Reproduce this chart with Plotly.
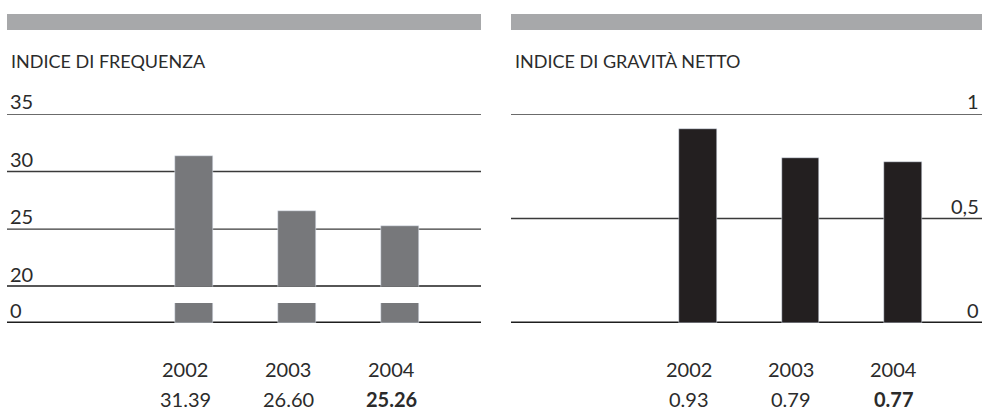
import plotly.graph_objects as go

# data
years = ["2002", "2003", "2004"]
freq_values = [31.39, 26.60, 25.26]
grav_values = [0.93, 0.79, 0.77]
freq_labels = ["31.39", "26.60", "<b>25.26</b>"]
grav_labels = ["0.93", "0.79", "<b>0.77</b>"]
freq_ticks = [20, 25, 30, 35]
freq_low_ticks = [0]
grav_ticks = [0, 0.5, 1]
grav_tick_text = ["0", "0,5", "1"]

W, H = 982, 412
FONT = "Lato, 'Open Sans', sans-serif"
TXT = "#2b2b2b"
xpos = list(range(len(years)))


def px(x):
    return x / W


def py(y):
    return 1 - y / H


fig = go.Figure()

# left: upper part (20-35) and lower stub (broken axis)
fig.add_trace(go.Bar(x=xpos, y=freq_values, width=0.37, marker_color="#77787b",
                     xaxis="x", yaxis="y", showlegend=False))
fig.add_trace(go.Bar(x=xpos, y=freq_values, width=0.37, marker_color="#77787b",
                     xaxis="x", yaxis="y3", showlegend=False))
# right
fig.add_trace(go.Bar(x=xpos, y=grav_values, width=0.37, marker_color="#231f20",
                     xaxis="x2", yaxis="y2", showlegend=False))

hidden = dict(showticklabels=False, showgrid=False, zeroline=False, showline=False,
              fixedrange=True)

fig.update_layout(
    width=W, height=H, autosize=False,
    margin=dict(l=0, r=0, t=0, b=0),
    paper_bgcolor="white", plot_bgcolor="rgba(0,0,0,0)",
    xaxis=dict(domain=[px(7), px(481)], range=[-1.816, 2.786], **hidden),
    xaxis2=dict(domain=[px(511), 1.0], range=[-1.824, 2.771], **hidden),
    yaxis=dict(domain=[py(286.7), py(114)], range=[20, 35], anchor="x", **hidden),
    yaxis3=dict(domain=[py(323), py(303)], range=[0, 2], anchor="x", **hidden),
    yaxis2=dict(domain=[py(323), py(114)], range=[0, 1], anchor="x2", **hidden),
    bargap=0,
)

shapes = []
# header bars
shapes.append(dict(type="rect", xref="paper", yref="paper", x0=px(7), x1=px(481),
                   y0=py(30), y1=py(14), fillcolor="#a7a8aa", line_width=0))
shapes.append(dict(type="rect", xref="paper", yref="paper", x0=px(511), x1=1.0,
                   y0=py(30), y1=py(14), fillcolor="#a7a8aa", line_width=0))


def hline(xref, yref, v, thick):
    return dict(type="line", xref=xref + " domain", yref=yref, x0=0, x1=1, y0=v, y1=v,
                layer="below",
                line=dict(color="#1e1e1e" if thick else "#3a3a3a", width=3 if thick else 1.4))


for v in freq_ticks:
    shapes.append(hline("x", "y", v, v == freq_ticks[0]))
for v in freq_low_ticks:
    shapes.append(hline("x", "y3", v, True))
for v in grav_ticks:
    shapes.append(hline("x2", "y2", v, v == grav_ticks[0]))
fig.update_layout(shapes=shapes)

ann = []
title_font = dict(family=FONT, size=18, color=TXT)
ann.append(dict(text="INDICE DI FREQUENZA", xref="paper", yref="paper", x=px(9), y=py(61),
                xanchor="left", yanchor="middle", showarrow=False, font=title_font))
ann.append(dict(text="INDICE DI GRAVITÀ NETTO", xref="paper", yref="paper", x=px(513), y=py(61),
                xanchor="left", yanchor="middle", showarrow=False, font=title_font))

# tick labels above the lines
tick_font = dict(family=FONT, size=20, color=TXT)
for v in freq_ticks:
    ann.append(dict(text=str(v), xref="paper", yref="y", x=px(9), y=v, xanchor="left",
                    yanchor="bottom", showarrow=False, font=tick_font, borderpad=0))
for v in freq_low_ticks:
    ann.append(dict(text=str(v), xref="paper", yref="y3", x=px(9), y=v, xanchor="left",
                    yanchor="bottom", showarrow=False, font=tick_font, borderpad=0))
for v, t in zip(grav_ticks, grav_tick_text):
    ann.append(dict(text=t, xref="paper", yref="y2", x=px(980), y=v, xanchor="right",
                    yanchor="bottom", showarrow=False, font=tick_font, borderpad=0))

# years and values under the bars
for xr, labels in (("x", freq_labels), ("x2", grav_labels)):
    for i, (yr, lab) in enumerate(zip(years, labels)):
        ann.append(dict(text=yr, xref=xr, yref="paper", x=xpos[i], y=py(369), xshift=-9,
                        xanchor="center", yanchor="middle", showarrow=False, font=tick_font))
        ann.append(dict(text=lab, xref=xr, yref="paper", x=xpos[i], y=py(399), xshift=-9,
                        xanchor="center", yanchor="middle", showarrow=False, font=tick_font,
                        borderpad=0))
fig.update_layout(annotations=ann)

fig.write_html("out.html", config={"displayModeBar": False},
               post_script="document.body.style.margin='0';")
